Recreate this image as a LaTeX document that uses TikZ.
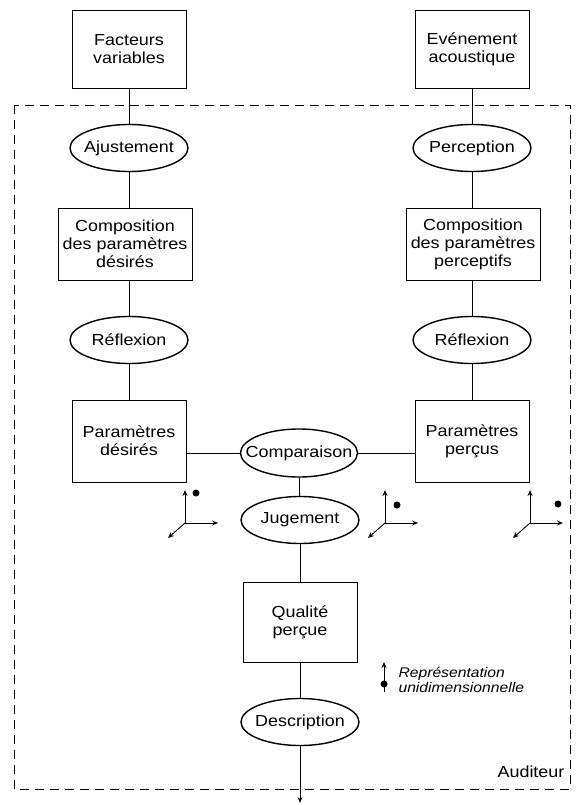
\documentclass[tikz,border=0pt]{standalone}
\usepackage{fontspec}
\setmainfont{Liberation Sans}[FakeStretch=1.12]
\usetikzlibrary{shapes.geometric, arrows.meta, positioning}

\begin{document}
\begin{tikzpicture}[
        x=1pt, y=-1pt,
        font=\fontsize{16}{18}\selectfont,
        box/.style={draw, line width=0.9pt, align=center, minimum width=114pt, minimum height=78pt, inner sep=2pt},
        etape/.style={draw, ellipse, line width=1.4pt, minimum width=118pt, minimum height=47pt, inner xsep=-14pt, inner ysep=0pt},
        lien/.style={line width=0.8pt},
        axe/.style={-{Stealth[length=6pt, width=5pt]}, line width=0.9pt}
    ]
    \useasboundingbox (0,0) rectangle (576,805);

    % Auditeur (cadre)
    \draw[line width=0.8pt, dash pattern=on 9pt off 6pt] (14,105) rectangle (570,789);
    \node[anchor=center] (aud) at (531,772) {Auditeur};

    % ================= colonne gauche =================
    \node[box] (fv) at (129,49) {Facteurs\\variables};
    \node[etape] (aj) at (129,148) {Ajustement};
    \node[box, minimum width=134pt, minimum height=72pt] (cd) at (125,244) {Composition\\des paramètres\\désirés};
    \node[etape] (rg) at (129,340) {Réflexion};
    \node[box, minimum height=82pt] (pd) at (129,441) {Paramètres\\désirés};

    % ================= colonne droite =================
    \node[box] (ea) at (472,49) {Evénement\\acoustique};
    \node[etape] (pc) at (472,148) {Perception};
    \node[box, minimum width=134pt, minimum height=72pt] (cp) at (473,244) {Composition\\des paramètres\\perceptifs};
    \node[etape] (rd) at (472,340) {Réflexion};
    \node[box, minimum height=82pt] (pp) at (472,441) {Paramètres\\perçus};

    % ================= colonne centrale =================
    \node[etape, minimum width=117pt, minimum height=48pt] (cmp) at (299,453) {Comparaison};
    \node[etape] (jg) at (300,520) {Jugement};
    \node[box, minimum height=80pt] (qp) at (300,622) {Qualité\\perçue};
    \node[etape] (ds) at (300,722) {Description};
    \coordinate (sortie) at (300,803);

    % Liens
    \draw[lien] (fv) -- (aj);
    \draw[lien] (aj) -- (cd.north -| aj);
    \draw[lien] (cd.south -| rg) -- (rg);
    \draw[lien] (rg) -- (pd);
    \draw[lien] (ea) -- (pc);
    \draw[lien] (pc) -- (cp.north -| pc);
    \draw[lien] (cp.south -| rd) -- (rd);
    \draw[lien] (rd) -- (pp);
    \draw[lien] (pd.east |- cmp) -- (cmp);
    \draw[lien] (cmp) -- (pp.west |- cmp);
    \draw[lien] (cmp) -- (jg);
    \draw[lien] (jg) -- (qp);
    \draw[lien] (qp) -- (ds);
    \draw[axe] (ds) -- (sortie);

    % Reperes
    \foreach \ox/\dx/\dy in {185/11/-30, 385/12/-18, 530/28/-19} {
        \coordinate (o) at (\ox,523);
        \draw[axe] (o) -- ++(0,-33);
        \draw[axe] (o) -- ++(33,0);
        \draw[axe] (o) -- ++(-17,15);
        \fill (o) ++(\dx,\dy) circle (3.5pt);
    }

    % Legende
    \coordinate (lb) at (384,692);
    \coordinate (lh) at (384,662);
    \draw[axe] (lb) -- (lh);
    \fill (384,684) circle (3.5pt);
    \node[anchor=west, align=left, font=\fontsize{14}{15}\selectfont\itshape] (leg) at (395,680) {Représentation\\unidimensionnelle};
\end{tikzpicture}
\end{document}
